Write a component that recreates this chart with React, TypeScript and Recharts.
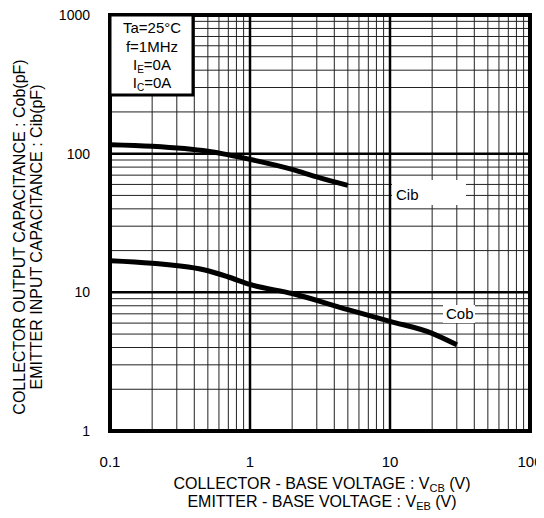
import React from "react";
import { LineChart, Line, XAxis, YAxis, ReferenceLine } from "recharts";

const xTicks = [0.1, 1, 10, 100];
const yTicks = [1, 10, 100, 1000];
const xMinor = [0.2, 0.3, 0.4, 0.5, 0.6, 0.7, 0.8, 0.9, 2, 3, 4, 5, 6, 7, 8, 9, 20, 30, 40, 50, 60, 70, 80, 90];
const yMinor = [2, 3, 4, 5, 6, 7, 8, 9, 20, 30, 40, 50, 60, 70, 80, 90, 200, 300, 400, 500, 600, 700, 800, 900];

const cibV = [0.1, 0.2, 0.5, 1, 2, 3, 5];
const cibC = [116, 113, 104, 91, 77, 68, 59];
const cobV = [0.1, 0.2, 0.5, 0.7, 1, 2, 5, 10, 20, 30];
const cobC = [16.9, 16.2, 14.3, 12.9, 11.4, 9.8, 7.5, 6.18, 5.06, 4.18];

const cibData = cibV.map((x, i) => ({ x, y: cibC[i] }));
const cobData = cobV.map((x, i) => ({ x, y: cobC[i] }));

const W = 544;
const H = 518;
const FONT = "'Liberation Sans', Arial, sans-serif";

const XTick = (props: any) => {
  const { x, y, payload } = props;
  const v = payload.value;
  const label = String(v);
  return (
    <text x={x} y={y + 11} textAnchor="middle" fontSize={15} fontFamily={FONT} fill="#000">
      {label}
    </text>
  );
};

export default function App() {
  return (
    <div style={{ position: "relative", width: W, height: 510, margin: "-8px 0 0 -8px", fontFamily: FONT }}>
      <div style={{ position: "absolute", left: 0, top: 0 }}>
        <LineChart
          width={W}
          height={H}
          margin={{ top: 15, right: 14, left: 0, bottom: 0 }}
          style={{ overflow: "visible" }}
        >
          <XAxis
            dataKey="x"
            type="number"
            scale="log"
            domain={[0.1, 100]}
            ticks={xTicks}
            interval={0}
            allowDataOverflow
            axisLine={false}
            tickLine={false}
            tickSize={0}
            tickMargin={25}
            height={87}
            tick={<XTick />}
          />
          <YAxis
            dataKey="y"
            type="number"
            scale="log"
            domain={[1, 1000]}
            ticks={yTicks}
            interval={0}
            allowDataOverflow
            axisLine={false}
            tickLine={false}
            tickSize={0}
            tickMargin={20}
            width={110}
            tick={{ fill: "#000", fontSize: 14, fontFamily: FONT }}
          />
          {xMinor.map((v) => (
            <ReferenceLine key={"xm" + v} x={v} stroke="#222" strokeWidth={1} />
          ))}
          {yMinor.map((v) => (
            <ReferenceLine key={"ym" + v} y={v} stroke="#222" strokeWidth={1} />
          ))}
          {[1, 10].map((v) => (
            <ReferenceLine key={"xM" + v} x={v} stroke="#000" strokeWidth={2.5} />
          ))}
          {[10, 100].map((v) => (
            <ReferenceLine key={"yM" + v} y={v} stroke="#000" strokeWidth={2.5} />
          ))}
          <Line data={cibData} dataKey="y" type="monotone" stroke="#000" strokeWidth={5} dot={false} isAnimationActive={false} />
          <Line data={cobData} dataKey="y" type="monotone" stroke="#000" strokeWidth={5} dot={false} isAnimationActive={false} />
          {[0.1, 100].map((v) => (
            <ReferenceLine key={"xb" + v} x={v} stroke="#000" strokeWidth={4} strokeLinecap="square" />
          ))}
          {[1, 1000].map((v) => (
            <ReferenceLine key={"yb" + v} y={v} stroke="#000" strokeWidth={4} strokeLinecap="square" />
          ))}
        </LineChart>
      </div>
      <svg
        width={W}
        height={H}
        style={{ position: "absolute", left: 0, top: 0, pointerEvents: "none" }}
        fontFamily={FONT}
      >
        <rect x={110} y={15} width={83} height={80} fill="#fff" stroke="#000" strokeWidth={3} />
        <g fontSize={15} textAnchor="middle" fill="#000">
          <text x={152} y={33}>Ta=25°C</text>
          <text x={152} y={52}>f=1MHz</text>
          <text x={152} y={70}>
            I<tspan fontSize={10} dy={3}>E</tspan>
            <tspan dy={-3}>=0A</tspan>
          </text>
          <text x={152} y={88}>
            I<tspan fontSize={10} dy={3}>C</tspan>
            <tspan dy={-3}>=0A</tspan>
          </text>
        </g>
        <rect x={392} y={180} width={74} height={25} fill="#fff" />
        <text x={396} y={200} fontSize={15} fill="#000">Cib</text>
        <rect x={443} y={305} width={32} height={18} fill="#fff" />
        <text x={446} y={319} fontSize={15} fill="#000">Cob</text>
        <g fontSize={16} textAnchor="middle" fill="#000">
          <text x={322} y={489}>
            COLLECTOR - BASE VOLTAGE  : V<tspan fontSize={11} dy={3}>CB</tspan>
            <tspan dy={-3}> (V)</tspan>
          </text>
          <text x={322} y={507}>
            EMITTER - BASE VOLTAGE : V<tspan fontSize={11} dy={3}>EB</tspan>
            <tspan dy={-3}> (V)</tspan>
          </text>
        </g>
        <g fontSize={16} textAnchor="middle" fill="#000">
          <text x={25} y={237} transform="rotate(-90 25 237)">
            COLLECTOR  OUTPUT CAPACITANCE  : Cob(pF)
          </text>
          <text x={42} y={237} transform="rotate(-90 42 237)">
            EMITTER INPUT CAPACITANCE  : Cib(pF)
          </text>
        </g>
      </svg>
    </div>
  );
}
